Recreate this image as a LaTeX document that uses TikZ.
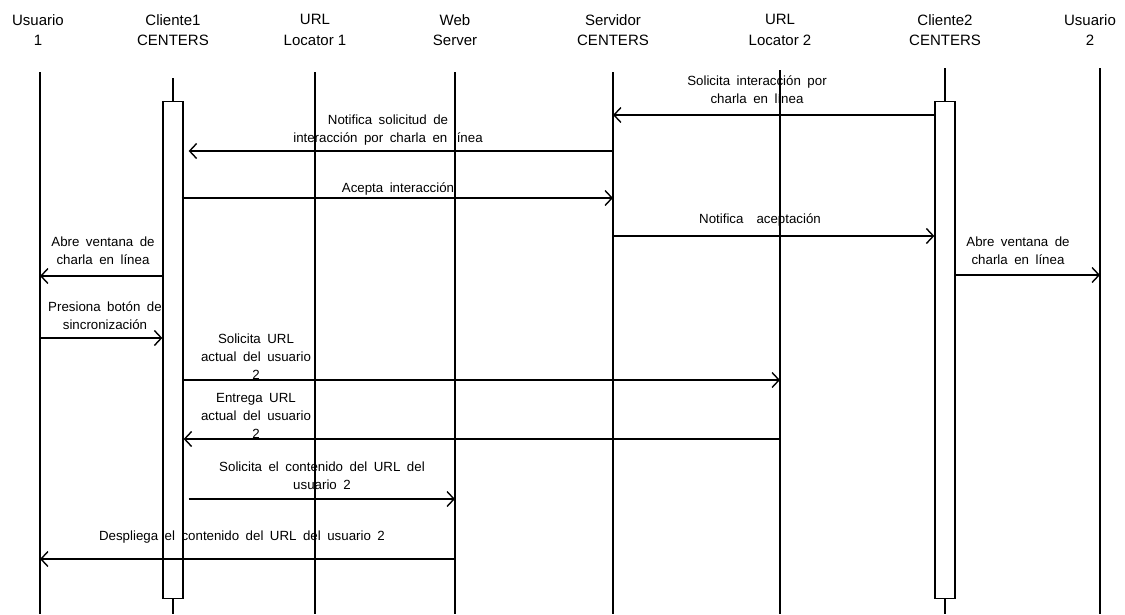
\documentclass[tikz,border=0pt]{standalone}
\usepackage{fontspec}
\setmainfont{Liberation Sans}
\usetikzlibrary{arrows.meta}
\newlength{\lblspace}
\setlength{\lblspace}{6.5pt}
\begin{document}
\begin{tikzpicture}[x=1pt,y=-1pt,
  head/.style={align=center,font=\fontsize{15}{20.5}\selectfont,inner sep=0pt},
  lbl/.style={align=center,font=\fontsize{13.3}{18}\selectfont,inner sep=0pt,
    execute at begin node={\spaceskip=\lblspace\relax}},
  life/.style={line width=1.3pt},
  act/.style={draw,line width=1.3pt,minimum width=20pt,minimum height=497pt,inner sep=0pt,anchor=north},
  msg/.style={line width=1.4pt,-{Straight Barb[length=7pt,width=15pt]}}]
\useasboundingbox (0,0) rectangle (1125,614);

% participants
\node[head] (hU1) at (38,30)   {Usuario\\1};
\node[head] (hC1) at (173,30)  {Cliente1\\CENTERS};
\node[head] (hL1) at (315,30)  {URL\\Locator 1};
\node[head] (hW)  at (455,30)  {Web\\Server};
\node[head] (hS)  at (613,30)  {Servidor\\CENTERS};
\node[head] (hL2) at (780,30)  {URL\\Locator 2};
\node[head] (hC2) at (945,30)  {Cliente2\\CENTERS};
\node[head] (hU2) at (1090,30) {Usuario\\2};

% lifeline tops and the bottom edge
\coordinate (tU1) at (40,72);
\coordinate (tC1) at (173,78);
\coordinate (tL1) at (315,72);
\coordinate (tW)  at (455,72);
\coordinate (tS)  at (613,72);
\coordinate (tL2) at (780,70);
\coordinate (tC2) at (945,68);
\coordinate (tU2) at (1100,68);
\coordinate (bot) at (0,614);

% message labels
\node[lbl] (l1)  at (757,90)   {Solicita interacción por\\charla en línea};
\node[lbl] (l2)  at (388,130)  {Notifica solicitud de\\interacción por charla en línea};
\node[lbl] (l3)  at (398,189)  {Acepta interacción};
\node[lbl] (l4)  at (760,220)  {Notifica \ aceptación};
\node[lbl] (l5)  at (103,251)  {Abre ventana de\\charla en línea};
\node[lbl] (l6)  at (1018,251) {Abre ventana de\\charla en línea};
\node[lbl] (l7)  at (105,316)  {Presiona botón de\\sincronización};
\node[lbl] (l8)  at (256,357)  {Solicita URL\\actual del usuario\\2};
\node[lbl] (l9)  at (256,416)  {Entrega URL\\actual del usuario\\2};
\node[lbl] (l10) at (322,476)  {Solicita el contenido del URL del\\usuario 2};
\node[lbl] (l11) at (242,537)  {Despliega el contenido del URL del usuario 2};

% activation boxes
\node[act] (a1) at (173,101) {};
\node[act] (a2) at (945,101) {};

% lifelines (the client lines stop at their activation boxes)
\foreach \t in {tU1,tL1,tW,tS,tL2,tU2}
  \draw[life] (\t) -- (\t |- bot);
\draw[life] (tC1) -- (a1.north);
\draw[life] (a1.south) -- (a1.south |- bot);
\draw[life] (tC2) -- (a2.north);
\draw[life] (a2.south) -- (a2.south |- bot);

% message rows
\coordinate (m1)  at (0,115);
\coordinate (m2)  at (0,151);
\coordinate (m3)  at (0,198);
\coordinate (m4)  at (0,236);
\coordinate (m5)  at (0,276);
\coordinate (m6)  at (0,275);
\coordinate (m7)  at (0,338);
\coordinate (m8)  at (0,380);
\coordinate (m9)  at (0,439);
\coordinate (m10) at (0,499);
\coordinate (m11) at (0,559);

% messages
\draw[msg] (a2.west |- m1) -- (tS |- m1);
\draw[msg] (tS |- m2) -- ([xshift=5pt]a1.east |- m2);
\draw[msg] ([xshift=-2pt]a1.east |- m3) -- (tS |- m3);
\draw[msg] (tS |- m4) -- (a2.west |- m4);
\draw[msg] (a1.west |- m5) -- (tU1 |- m5);
\draw[msg] (a2.east |- m6) -- (tU2 |- m6);
\draw[msg] (tU1 |- m7) -- (a1.west |- m7);
\draw[msg] (a1.east |- m8) -- (tL2 |- m8);
\draw[msg] (tL2 |- m9) -- (a1.east |- m9);
\draw[msg] ([xshift=5pt]a1.east |- m10) -- (tW |- m10);
\draw[msg] (tW |- m11) -- (tU1 |- m11);
\end{tikzpicture}
\end{document}
